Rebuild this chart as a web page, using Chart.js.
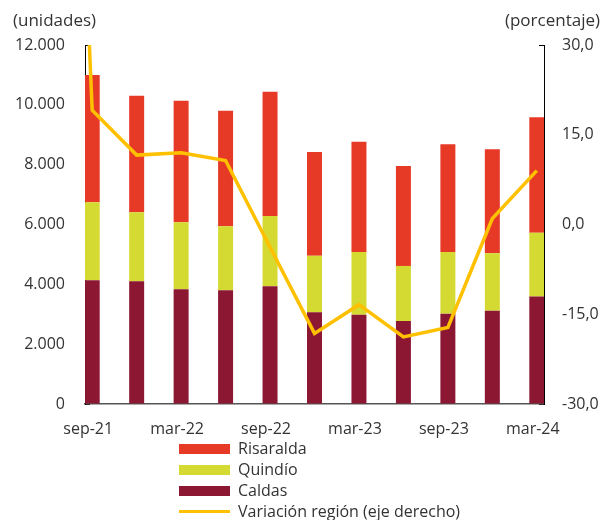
<!DOCTYPE html>
<html>
<head>
<meta charset="utf-8">
<script src="https://cdn.jsdelivr.net/npm/chart.js@4"></script>
<style>
    body { margin: 0; background: #fff; font-family: "Open Sans", sans-serif; color: #333; }
    #wrap { position: relative; width: 611px; height: 520px; }
    #wrap canvas { position: absolute; left: 0; top: 0; }
    .axisTitle { position: absolute; font-size: 17px; line-height: 17px; white-space: nowrap; }
    #legend { position: absolute; left: 179px; top: 438px; font-size: 16px; }
    .legItem { height: 21px; line-height: 21px; display: flex; align-items: center; white-space: nowrap; }
    .legBox { width: 51px; margin-right: 8px; }
</style>
</head>
<body>
<div id="wrap">
    <canvas id="chartRegion"></canvas>
    <div class="axisTitle" style="left:13px; top:11px;">(unidades)</div>
    <div class="axisTitle" style="right:11px; top:11px;">(porcentaje)</div>
    <div id="legend"></div>
</div>
<script>
var periodos = ["sep-21","dic-21","mar-22","jun-22","sep-22","dic-22","mar-23","jun-23","sep-23","dic-23","mar-24"];

// unidades por departamento (eje izquierdo)
var caldas    = [4135, 4100, 3835, 3800, 3935, 3065, 2985, 2775, 3020, 3120, 3590];
var quindio   = [2610, 2310, 2240, 2140, 2350, 1890, 2095, 1840, 2060, 1920, 2135];
var risaralda = [4255, 3895, 4065, 3865, 4155, 3470, 3690, 3340, 3600, 3475, 3860];

// variación anual región (%), eje derecho; el primer valor es jun-21 (queda fuera del área)
var variacionPeriodos = ["jun-21","sep-21","dic-21","mar-22","jun-22","sep-22","dic-22","mar-23","jun-23","sep-23","dic-23","mar-24"];
var variacion = [190, 19.1, 11.6, 12.0, 10.7, -3.8, -18.2, -13.4, -18.8, -17.2, 1.0, 9.0];

var ejeX = [0, 2, 4, 6, 8, 10];
var chartRegion;

function toPoints(values, shift) {
    return values.map(function (v, i) { return { x: i + shift, y: v }; });
}

function formatMiles(v) {
    return String(v).replace(/\B(?=(\d{3})+(?!\d))/g, '.');
}

function formatPct(v) {
    return v.toFixed(1).replace('.', ',');
}

function initiateChart() {
    var ctx = document.getElementById('chartRegion').getContext('2d');
    Chart.defaults.font.family = '"Open Sans", sans-serif';
    Chart.defaults.font.size = 16;
    Chart.defaults.color = '#333';

    chartRegion = new Chart(ctx, {
        type: 'bar',
        data: {
            datasets: [
                { label: 'Caldas', data: toPoints(caldas, 0), backgroundColor: '#8C1733', stack: 'dep', order: 1,
                  categoryPercentage: 0.337, barPercentage: 1 },
                { label: 'Quindío', data: toPoints(quindio, 0), backgroundColor: '#D4DA32', stack: 'dep', order: 1,
                  categoryPercentage: 0.337, barPercentage: 1 },
                { label: 'Risaralda', data: toPoints(risaralda, 0), backgroundColor: '#E63A27', stack: 'dep', order: 1,
                  categoryPercentage: 0.337, barPercentage: 1 },
                { type: 'line', label: 'Variación región (eje derecho)', data: toPoints(variacion, -1),
                  yAxisID: 'y1', borderColor: '#FFC000', backgroundColor: '#FFC000', borderWidth: 3.5,
                  pointRadius: 0, tension: 0, fill: false, order: 0, stack: 'var' }
            ]
        },
        options: {
            responsive: false,
            animation: false,
            events: [],
            layout: { padding: { top: 45, bottom: 76, left: 0, right: 0 } },
            plugins: { legend: { display: false }, tooltip: { enabled: false } },
            scales: {
                x: {
                    type: 'linear',
                    stacked: true,
                    offset: false,
                    min: -0.162,
                    max: 10.162,
                    afterBuildTicks: function (scale) {
                        scale.ticks = ejeX.map(function (v) { return { value: v }; });
                    },
                    afterFit: function (scale) { scale.height = 40; },
                    ticks: {
                        padding: 16,
                        labelOffset: -4,
                        maxRotation: 0,
                        autoSkip: false,
                        callback: function (v) { return periodos[v]; }
                    },
                    grid: { offset: false, drawOnChartArea: false, drawTicks: false },
                    border: { display: true, color: '#555', width: 1.5 }
                },
                y: {
                    position: 'left',
                    stacked: true,
                    min: 0,
                    max: 12000,
                    afterFit: function (scale) { scale.width = 85; },
                    ticks: { stepSize: 2000, padding: 25, callback: function (v) { return formatMiles(v); } },
                    grid: { drawOnChartArea: false, drawTicks: true, tickLength: -5, color: '#000' },
                    border: { display: true, color: '#000', width: 1 }
                },
                y1: {
                    position: 'right',
                    min: -30,
                    max: 30,
                    afterFit: function (scale) { scale.width = 67; },
                    ticks: { stepSize: 15, padding: 23, callback: function (v) { return formatPct(v); } },
                    grid: { drawOnChartArea: false, drawTicks: true, tickLength: -5, color: '#000' },
                    border: { display: true, color: '#000', width: 1 }
                }
            }
        }
    });
}

function buildLegend() {
    var legend = document.getElementById('legend');
    var ds = chartRegion.data.datasets;
    var orden = [2, 1, 0, 3];
    orden.forEach(function (i) {
        var item = document.createElement('div');
        item.className = 'legItem';
        var box = document.createElement('span');
        box.className = 'legBox';
        box.style.background = ds[i].type === 'line' ? ds[i].borderColor : ds[i].backgroundColor;
        box.style.height = ds[i].type === 'line' ? '3px' : '10px';
        var txt = document.createElement('span');
        txt.textContent = ds[i].label;
        item.appendChild(box);
        item.appendChild(txt);
        legend.appendChild(item);
    });
}

document.addEventListener('DOMContentLoaded', function () {
    var canvas = document.getElementById('chartRegion');
    canvas.width = 611;
    canvas.height = 520;
    initiateChart();
    buildLegend();
});
</script>
</body>
</html>
